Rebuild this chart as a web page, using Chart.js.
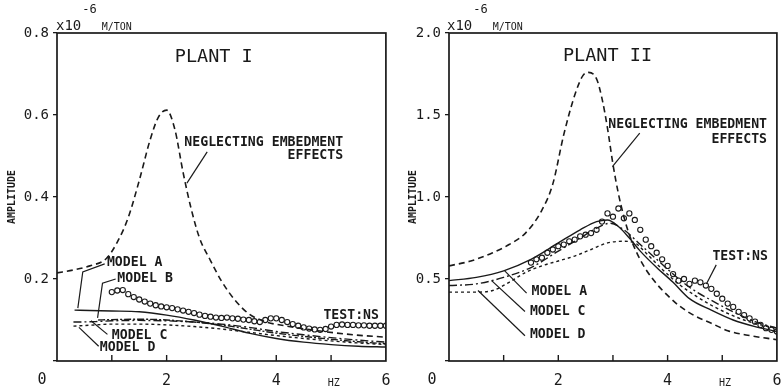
<!DOCTYPE html>
<html><head><meta charset="utf-8">
<script src="https://cdn.jsdelivr.net/npm/chart.js@4/dist/chart.umd.min.js"></script>
<style>
html,body{margin:0;padding:0;background:#fff;}
#wrap{position:relative;width:782px;height:389px;overflow:hidden;}
canvas{position:absolute;top:0;}
#c1{left:0}
#c2{left:391px}
</style></head><body>
<div id="wrap"><canvas id="c1" width="391" height="389"></canvas><canvas id="c2" width="391" height="389"></canvas></div>
<script>
// ---------- PLANT I data ----------
const p1NegF = [0,0.3,0.6,0.9,1.1,1.3,1.5,1.7,1.85,2.0,2.15,2.3,2.45,2.6,2.8,3.0,3.25,3.5,3.8,4.2,4.8,5.4,6.0];
const p1NegA = [0.215,0.222,0.232,0.25,0.29,0.35,0.44,0.54,0.595,0.612,0.565,0.46,0.37,0.3,0.245,0.195,0.148,0.115,0.096,0.085,0.073,0.064,0.058];
const p1AF = [0.32,0.6,1.0,1.5,2.0,2.5,3.0,3.5,4.0,4.5,5.0,5.5,6.0];
const p1AA = [0.124,0.123,0.122,0.12,0.112,0.1,0.085,0.068,0.055,0.046,0.04,0.036,0.034];
const p1BF = [0.75,1.0,1.5,2.0,2.5,3.0,3.5,4.0,4.5,5.0,5.5,6.0];
const p1BA = [0.1,0.101,0.102,0.1,0.095,0.088,0.078,0.068,0.06,0.053,0.047,0.042];
const p1CF = [0.3,0.7,1.0,1.5,2.0,2.5,3.0,3.5,4.0,4.5,5.0,5.5,6.0];
const p1CA = [0.095,0.096,0.098,0.099,0.098,0.095,0.09,0.082,0.072,0.064,0.057,0.051,0.046];
const p1DF = [0.3,0.7,1.0,1.5,2.0,2.5,3.0,3.5,4.0,4.5,5.0,5.5,6.0];
const p1DA = [0.085,0.088,0.09,0.09,0.088,0.084,0.078,0.07,0.062,0.055,0.049,0.044,0.04];
const p1TestF = [1.0,1.1,1.2,1.3,1.4,1.5,1.6,1.7,1.8,1.9,2.0,2.1,2.2,2.3,2.4,2.5,2.6,2.7,2.8,2.9,3.0,3.1,3.2,3.3,3.4,3.5,3.6,3.7,3.8,3.9,4.0,4.1,4.2,4.3,4.4,4.5,4.6,4.7,4.8,4.9,5.0,5.1,5.2,5.3,5.4,5.5,5.6,5.7,5.8,5.9,6.0];
const p1TestA = [0.168,0.172,0.173,0.163,0.156,0.15,0.145,0.14,0.136,0.133,0.131,0.129,0.126,0.123,0.12,0.117,0.113,0.11,0.108,0.106,0.105,0.106,0.104,0.103,0.101,0.1,0.097,0.095,0.1,0.104,0.104,0.1,0.095,0.09,0.086,0.082,0.079,0.077,0.076,0.078,0.084,0.088,0.089,0.088,0.088,0.087,0.087,0.086,0.086,0.086,0.086];

// ---------- PLANT II data ----------
const p2NegF = [0,0.4,0.8,1.1,1.4,1.7,1.9,2.1,2.3,2.45,2.55,2.7,2.8,2.9,3.0,3.1,3.2,3.3,3.45,3.6,3.8,4.0,4.2,4.5,4.8,5.1,5.5,6.0];
const p2NegA = [0.58,0.61,0.66,0.71,0.78,0.92,1.08,1.38,1.62,1.74,1.76,1.72,1.6,1.42,1.2,1.02,0.88,0.77,0.65,0.56,0.47,0.4,0.34,0.275,0.23,0.185,0.155,0.13];
const p2AF = [0,0.5,1.0,1.5,2.0,2.4,2.7,2.9,3.1,3.3,3.5,3.8,4.1,4.4,4.8,5.2,5.6,6.0];
const p2AA = [0.49,0.51,0.55,0.62,0.72,0.8,0.85,0.86,0.82,0.75,0.67,0.57,0.48,0.38,0.31,0.25,0.21,0.18];
const p2CF = [0,0.5,1.0,1.5,2.0,2.4,2.7,2.95,3.2,3.5,3.8,4.1,4.4,4.8,5.2,5.6,6.0];
const p2CA = [0.46,0.47,0.51,0.57,0.67,0.75,0.81,0.84,0.8,0.71,0.62,0.53,0.45,0.37,0.3,0.24,0.2];
const p2DF = [0,0.5,0.8,1.1,1.4,1.7,2.0,2.3,2.6,2.9,3.2,3.4,3.6,3.9,4.2,4.5,4.8,5.1,5.4,5.7,6.0];
const p2DA = [0.42,0.42,0.43,0.48,0.54,0.58,0.61,0.64,0.68,0.72,0.73,0.72,0.66,0.56,0.47,0.4,0.34,0.29,0.25,0.22,0.2];
const p2TestF = [1.5,1.6,1.7,1.8,1.9,2.0,2.1,2.2,2.3,2.4,2.5,2.6,2.7,2.8,2.9,3.0,3.1,3.2,3.3,3.4,3.5,3.6,3.7,3.8,3.9,4.0,4.1,4.2,4.3,4.4,4.5,4.6,4.7,4.8,4.9,5.0,5.1,5.2,5.3,5.4,5.5,5.6,5.7,5.8,5.9,6.0];
const p2TestA = [0.6,0.62,0.63,0.66,0.68,0.7,0.71,0.73,0.74,0.76,0.77,0.78,0.8,0.85,0.9,0.88,0.93,0.87,0.9,0.86,0.8,0.74,0.7,0.66,0.62,0.58,0.53,0.49,0.5,0.47,0.49,0.48,0.46,0.44,0.41,0.38,0.35,0.33,0.3,0.28,0.26,0.24,0.22,0.2,0.19,0.18];

// tick label lists
const p1YTicks = ['0.2','0.4','0.6','0.8'];
const p2YTicks = ['0.5','1.0','1.5','2.0'];
const xTickLabels = ['2','4','6'];

const MONO = '"DejaVu Sans Mono", "Liberation Mono", monospace';
const INK = '#1a1a1a';
const xy = (f, a) => f.map((v, i) => ({x: v, y: a[i]}));

function lineDs(f, a, dash, w) {
  return {data: xy(f, a), borderColor: INK, borderWidth: w || 1.4, borderDash: dash,
    pointRadius: 0, fill: false, cubicInterpolationMode: 'monotone'};
}
function testDs(f, a) {
  return {data: xy(f, a), showLine: false, pointRadius: 2.6, pointBorderWidth: 1.1,
    pointBorderColor: INK, pointBackgroundColor: '#fff', pointStyle: 'circle'};
}

const deco = {
  id: 'deco',
  afterDraw(chart, args, o) {
    const {ctx, chartArea: {left, top, right, bottom}, scales: {x, y}} = chart;
    ctx.save();
    ctx.strokeStyle = INK; ctx.fillStyle = INK;
    ctx.lineWidth = 1.7;
    ctx.strokeRect(left, top, right - left, bottom - top);
    // inward x ticks
    ctx.lineWidth = 1.4;
    for (let v = 1; v < 6; v++) {
      const px = x.getPixelForValue(v);
      ctx.beginPath(); ctx.moveTo(px, bottom); ctx.lineTo(px, bottom - 6); ctx.stroke();
    }
    // origin label
    ctx.font = '15px ' + MONO; ctx.textAlign = 'center'; ctx.textBaseline = 'middle';
    ctx.fillText('0', left + o.zeroDx, bottom + 19);
    // HZ
    ctx.font = '10px ' + MONO;
    ctx.fillText('HZ', x.getPixelForValue(5.05), bottom + 22);
    // unit
    ctx.textAlign = 'left'; ctx.textBaseline = 'alphabetic';
    let ux = left + o.unitDx;
    ctx.font = '14px ' + MONO; ctx.fillText('x10', ux, 30); ux += ctx.measureText('x10').width + 1;
    ctx.font = '12px ' + MONO; ctx.fillText('-6', ux, 13); ux += ctx.measureText('-6').width + 5;
    ctx.font = '10px ' + MONO; ctx.fillText('M/TON', ux, 30);
    // leaders
    ctx.lineWidth = 1.2;
    for (const L of o.leaders) {
      ctx.beginPath();
      L.forEach((p, i) => {
        const px = x.getPixelForValue(p[0]), py = y.getPixelForValue(p[1]);
        if (i === 0) ctx.moveTo(px, py); else ctx.lineTo(px, py);
      });
      ctx.stroke();
    }
    // texts
    ctx.textBaseline = 'middle';
    for (const T of o.texts) {
      ctx.font = T.font || ('bold 13.2px ' + MONO);
      ctx.textAlign = T.align || 'left';
      ctx.fillText(T.t, x.getPixelForValue(T.f), y.getPixelForValue(T.a));
    }
    ctx.restore();
  }
};

function makeChart(id, datasets, ymax, ystep, yLabels, pad, yWidth, decoOpts) {
  return new Chart(document.getElementById(id), {
    type: 'line',
    data: {datasets},
    plugins: [deco],
    options: {
      responsive: false, animation: false, parsing: true,
      layout: {padding: pad},
      plugins: {legend: {display: false}, tooltip: {enabled: false}, deco: decoOpts},
      scales: {
        x: {type: 'linear', min: 0, max: 6,
          border: {display: false},
          grid: {display: false, drawTicks: false, tickLength: 0},
          ticks: {stepSize: 1, padding: 11, color: INK, font: {family: MONO, size: 15},
            maxRotation: 0, autoSkip: false,
            callback: v => xTickLabels.includes(String(v)) ? String(v) : ''},
          afterFit: s => { s.height = 28; s.paddingLeft = 0; s.paddingRight = 0; }
        },
        y: {type: 'linear', min: 0, max: ymax,
          border: {display: false},
          grid: {drawOnChartArea: false, drawTicks: true, tickLength: 4, color: INK, lineWidth: 1.3},
          ticks: {stepSize: ystep, padding: 4, color: INK, font: {family: MONO, size: 14},
            callback: v => { const s = v.toFixed(1); return yLabels.includes(s) ? s : ''; }},
          title: {display: true, text: 'AMPLITUDE', color: INK, font: {family: MONO, size: 10, weight: 'bold'}, padding: {top: decoOpts.titlePad, bottom: 0}},
          afterFit: s => { s.width = yWidth; s.paddingTop = 0; s.paddingBottom = 0; }
        }
      }
    }
  });
}

makeChart('c1', [
  lineDs(p1NegF, p1NegA, [6, 4], 1.6),
  lineDs(p1AF, p1AA, []),
  lineDs(p1BF, p1BA, [7, 2, 2, 2]),
  lineDs(p1CF, p1CA, [8, 3, 2, 3]),
  lineDs(p1DF, p1DA, [3, 3]),
  testDs(p1TestF, p1TestA)
], 0.8, 0.2, p1YTicks, {left: 0, top: 33, right: 3, bottom: 0}, 57, {
  zeroDx: -15, unitDx: -1, titlePad: 6,
  texts: [
    {t: 'PLANT I', f: 2.86, a: 0.741, align: 'center', font: '18.5px ' + MONO},
    {t: 'NEGLECTING EMBEDMENT', f: 5.22, a: 0.532, align: 'right'},
    {t: 'EFFECTS', f: 5.22, a: 0.5, align: 'right'},
    {t: 'MODEL A', f: 0.91, a: 0.239},
    {t: 'MODEL B', f: 1.1, a: 0.202},
    {t: 'MODEL C', f: 1.0, a: 0.063},
    {t: 'MODEL D', f: 0.78, a: 0.032},
    {t: 'TEST:NS', f: 4.86, a: 0.112}
  ],
  leaders: [
    [[2.74, 0.51], [2.37, 0.434]],
    [[0.87, 0.237], [0.47, 0.217], [0.38, 0.129]],
    [[1.07, 0.2], [0.83, 0.19], [0.74, 0.105]],
    [[0.92, 0.065], [0.62, 0.098]],
    [[0.76, 0.036], [0.4, 0.082]]
  ]
});

makeChart('c2', [
  lineDs(p2NegF, p2NegA, [6, 4], 1.6),
  lineDs(p2AF, p2AA, []),
  lineDs(p2CF, p2CA, [8, 3, 2, 3]),
  lineDs(p2DF, p2DA, [3, 3]),
  testDs(p2TestF, p2TestA)
], 2.0, 0.5, p2YTicks, {left: 0, top: 33, right: 4, bottom: 0}, 58, {
  zeroDx: -17, unitDx: -2, titlePad: 16,
  texts: [
    {t: 'PLANT II', f: 2.9, a: 1.86, align: 'center', font: '18.5px ' + MONO},
    {t: 'NEGLECTING EMBEDMENT', f: 5.82, a: 1.444, align: 'right'},
    {t: 'EFFECTS', f: 5.82, a: 1.35, align: 'right'},
    {t: 'MODEL A', f: 1.51, a: 0.426},
    {t: 'MODEL C', f: 1.48, a: 0.302},
    {t: 'MODEL D', f: 1.48, a: 0.16},
    {t: 'TEST:NS', f: 4.82, a: 0.636}
  ],
  leaders: [
    [[3.49, 1.39], [2.99, 1.185]],
    [[1.42, 0.414], [1.02, 0.55]],
    [[1.39, 0.302], [0.78, 0.49]],
    [[1.39, 0.154], [0.53, 0.43]],
    [[4.89, 0.586], [4.71, 0.47]]
  ]
});
</script>
</body></html>
